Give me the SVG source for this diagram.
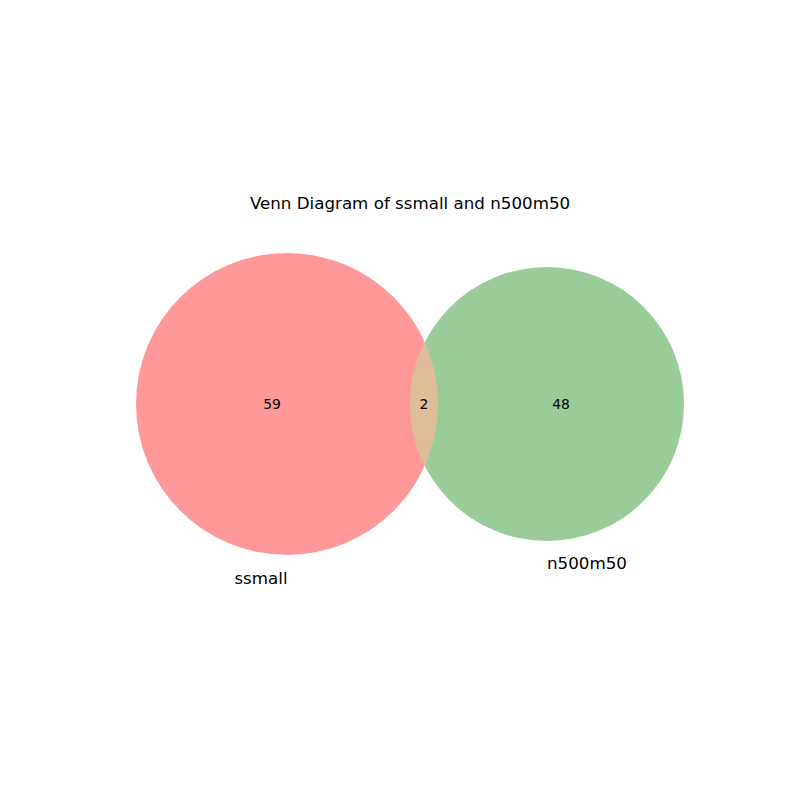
<svg xmlns="http://www.w3.org/2000/svg" width="800" height="800" viewBox="0 0 800 800">
<style>
text{font-family:"DejaVu Sans","Liberation Sans",sans-serif;fill:#000}
.num{font-size:13.9px;text-anchor:middle}
.lbl{font-size:16.7px;text-anchor:middle}
</style>
<rect width="800" height="800" fill="#fff"/>
<g id="set-ssmall">
<circle cx="287" cy="404" r="151" fill="#ff9999"/>
</g>
<g id="set-n500m50">
<circle cx="547" cy="404" r="137" fill="#99cc99"/>
</g>
<g id="intersection">
<path d="M424.75,342.1 A137,137 0 0 0 424.75,465.9 A151,151 0 0 0 424.75,342.1 Z" fill="#dfbd99"/>
</g>
<g id="connectors"></g>
<text x="410" y="209" class="lbl">Venn Diagram of ssmall and n500m50</text>
<text x="272" y="409" class="num">59</text>
<text x="424" y="409" class="num">2</text>
<text x="561" y="409" class="num">48</text>
<text x="261" y="584" class="lbl">ssmall</text>
<text x="587" y="569" class="lbl">n500m50</text>
</svg>
